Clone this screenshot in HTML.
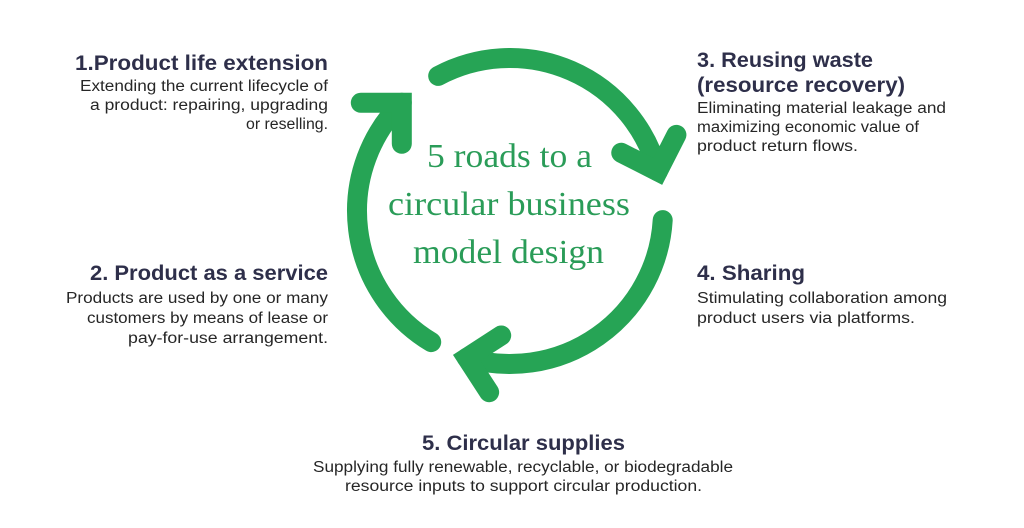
<!DOCTYPE html>
<html>
<head>
<meta charset="utf-8">
<style>
  html, body { margin: 0; padding: 0; background: #ffffff; }
  body { width: 1024px; height: 528px; overflow: hidden; }
  svg { display: block; }
  .t { font-family: "Liberation Sans", Arial, sans-serif; font-weight: bold; font-size: 21.5px; fill: #2e2f4a; }
  .d { font-family: "Liberation Sans", Arial, sans-serif; font-size: 15.5px; fill: #262626; }
  .c { font-family: "Liberation Serif", "Times New Roman", serif; font-size: 34px; fill: #2a9c58; }
</style>
</head>
<body>
<svg width="1024" height="528" viewBox="0 0 1024 528" xmlns="http://www.w3.org/2000/svg">
  <rect x="0" y="0" width="1024" height="528" fill="#ffffff"/>

  <!-- circular arrows -->
  <g fill="none" stroke="#26a455" stroke-width="20" stroke-linecap="round">
    <path d="M438.2,75.9 A153,153 0 0 1 657.8,171.4"/>
    <path d="M662.7,220.1 A153,153 0 0 1 466.8,357.8"/>
    <path d="M431.2,342.1 A153,153 0 0 1 401.8,102.8"/>
  </g>
  <g fill="none" stroke="#26a455" stroke-width="20" stroke-linecap="round" stroke-linejoin="miter" stroke-miterlimit="10">
    <path d="M-29,-29 L0,0 L-29,29" transform="translate(657.8,171.4) rotate(72)"/>
    <path d="M-29,-29 L0,0 L-29,29" transform="translate(466.8,357.8) rotate(192)"/>
    <path d="M-29,-29 L0,0 L-29,29" transform="translate(401.8,102.8) rotate(-45)"/>
  </g>

  <!-- center text -->
  <text class="c" x="427" y="167" textLength="165" lengthAdjust="spacingAndGlyphs">5 roads to a</text>
  <text class="c" x="388" y="215" textLength="242" lengthAdjust="spacingAndGlyphs">circular business</text>
  <text class="c" x="413" y="263" textLength="191" lengthAdjust="spacingAndGlyphs">model design</text>

  <!-- 1 -->
  <text class="t" x="75" y="70" textLength="253" lengthAdjust="spacingAndGlyphs">1.Product life extension</text>
  <text class="d" x="80" y="91" textLength="248" lengthAdjust="spacingAndGlyphs">Extending the current lifecycle of</text>
  <text class="d" x="90" y="110" textLength="238" lengthAdjust="spacingAndGlyphs">a product: repairing, upgrading</text>
  <text class="d" x="246" y="129" textLength="82" lengthAdjust="spacingAndGlyphs">or reselling.</text>

  <!-- 2 -->
  <text class="t" x="90" y="280" textLength="238" lengthAdjust="spacingAndGlyphs">2. Product as a service</text>
  <text class="d" x="66" y="303" textLength="262" lengthAdjust="spacingAndGlyphs">Products are used by one or many</text>
  <text class="d" x="87" y="323" textLength="241" lengthAdjust="spacingAndGlyphs">customers by means of lease or</text>
  <text class="d" x="128" y="343" textLength="200" lengthAdjust="spacingAndGlyphs">pay-for-use arrangement.</text>

  <!-- 3 -->
  <text class="t" x="697" y="67" textLength="176" lengthAdjust="spacingAndGlyphs">3. Reusing waste</text>
  <text class="t" x="697" y="92" textLength="208" lengthAdjust="spacingAndGlyphs">(resource recovery)</text>
  <text class="d" x="697" y="113" textLength="249" lengthAdjust="spacingAndGlyphs">Eliminating material leakage and</text>
  <text class="d" x="697" y="132" textLength="222" lengthAdjust="spacingAndGlyphs">maximizing economic value of</text>
  <text class="d" x="697" y="151" textLength="161" lengthAdjust="spacingAndGlyphs">product return flows.</text>

  <!-- 4 -->
  <text class="t" x="697" y="280" textLength="108" lengthAdjust="spacingAndGlyphs">4. Sharing</text>
  <text class="d" x="697" y="303" textLength="250" lengthAdjust="spacingAndGlyphs">Stimulating collaboration among</text>
  <text class="d" x="697" y="323" textLength="218" lengthAdjust="spacingAndGlyphs">product users via platforms.</text>

  <!-- 5 -->
  <text class="t" x="422" y="450" textLength="203" lengthAdjust="spacingAndGlyphs">5. Circular supplies</text>
  <text class="d" x="313" y="472" textLength="420" lengthAdjust="spacingAndGlyphs">Supplying fully renewable, recyclable, or biodegradable</text>
  <text class="d" x="345" y="491" textLength="357" lengthAdjust="spacingAndGlyphs">resource inputs to support circular production.</text>
</svg>
</body>
</html>
